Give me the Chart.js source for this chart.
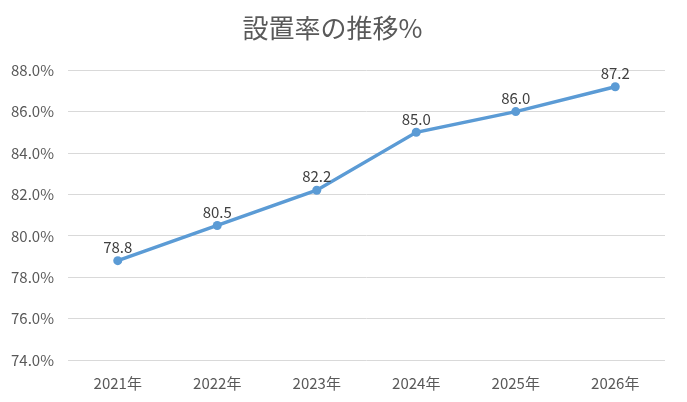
<!DOCTYPE html>
<html>
<head>
<meta charset="utf-8">
<script src="https://cdn.jsdelivr.net/npm/chart.js@4"></script>
<style>
  html, body { margin: 0; padding: 0; background: #fff; }
  #wrap { width: 687px; height: 402px; }
</style>
</head>
<body>
<div id="wrap"><canvas id="rateChart"></canvas></div>
<script>
// 設置率の推移
const years = ["2021年", "2022年", "2023年", "2024年", "2025年", "2026年"];
const rates = [78.8, 80.5, 82.2, 85.0, 86.0, 87.2];
const yMin = 74, yMax = 88, yStep = 2;

const FONT = "'Noto Sans CJK JP', 'Noto Sans', sans-serif";

// value labels above each point
const valueLabels = {
  id: 'valueLabels',
  afterDatasetsDraw(chart){
    const ctx = chart.ctx;
    const meta = chart.getDatasetMeta(0);
    ctx.save();
    ctx.font = "15px " + FONT;
    ctx.fillStyle = '#404040';
    ctx.textAlign = 'center';
    ctx.textBaseline = 'bottom';
    meta.data.forEach(function(pt, i){
      ctx.fillText(rates[i].toFixed(1), pt.x, pt.y - 6);
    });
    ctx.restore();
  }
};

new Chart(document.getElementById('rateChart'), {
  type: 'line',
  data: {
    labels: years,
    datasets: [{
      data: rates,
      borderColor: '#5B9BD5',
      backgroundColor: '#5B9BD5',
      borderWidth: 3.5,
      pointRadius: 4.5,
      pointBorderWidth: 0,
      tension: 0
    }]
  },
  options: {
    responsive: true,
    maintainAspectRatio: false,
    animation: false,
    layout: { padding: { left: 0, right: 22, top: 0, bottom: 0 } },
    plugins: {
      legend: { display: false },
      tooltip: { enabled: false },
      title: {
        display: true,
        text: '設置率の推移%',
        color: '#595959',
        font: { family: FONT, size: 26, weight: 'normal' },
        padding: { top: 13, bottom: 26 }
      }
    },
    scales: {
      x: {
        offset: true,
        grid: { display: false },
        border: { display: false },
        ticks: { color: '#595959', font: { family: FONT, size: 15 }, padding: 6 },
        afterFit: function(s){ s.height = 42; }
      },
      y: {
        min: yMin, max: yMax,
        grid: { color: '#D9D9D9', lineWidth: 1, drawTicks: false },
        border: { display: false },
        ticks: {
          stepSize: yStep,
          color: '#595959',
          font: { family: FONT, size: 15 },
          padding: 14,
          callback: function(v){ return v.toFixed(1) + '%'; }
        },
        afterFit: function(s){ s.width = 68; }
      }
    }
  },
  plugins: [valueLabels]
});
</script>
</body>
</html>
